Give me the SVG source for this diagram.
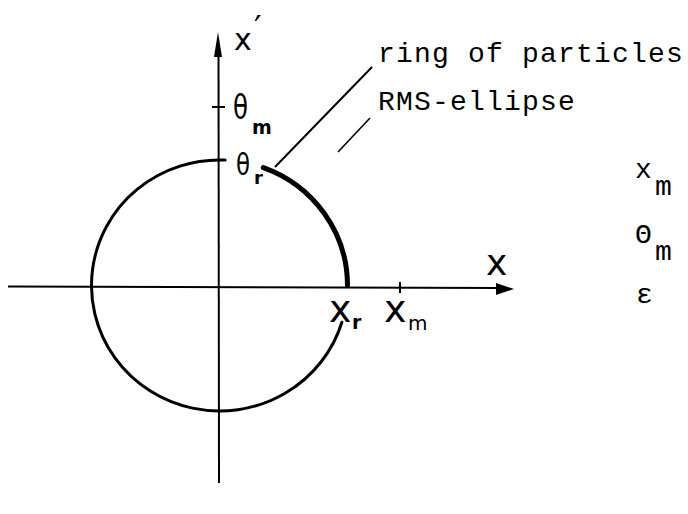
<svg xmlns="http://www.w3.org/2000/svg" width="688" height="514" viewBox="0 0 688 514">
<style>
.ax{stroke:#000;stroke-width:2;fill:none}
.ring{stroke:#000;stroke-width:3;fill:none;stroke-linecap:round}
.hw{font-family:"DejaVu Sans",sans-serif;fill:#000}
.tw{font-family:"Liberation Mono",monospace;fill:#000;font-size:28px;letter-spacing:1.2px}
.lead{stroke:#000;stroke-width:2;fill:none}
</style>
<rect width="688" height="514" fill="#fff"/>
<g id="axes">
<line class="ax" x1="8" y1="286.5" x2="500" y2="288"/>
<polygon points="514,289 496,283 496,295" fill="#000"/>
<line class="ax" x1="219" y1="483" x2="218.5" y2="52"/>
<polygon points="218,32 214,57 222,57" fill="#000"/>
<line class="ax" x1="212" y1="107" x2="225" y2="107"/>
<line class="ax" x1="400" y1="282" x2="400" y2="293"/>
</g>
<g id="ring">
<path class="ring" d="M225.1,160.1 A128,125.5 0 1 0 341.9,322.2"/>
<path class="ring" style="stroke-width:5" d="M263.3,167.6 A128,125.5 0 0 1 347.5,285.5"/>
</g>
<g id="connectors">
<line class="lead" x1="275" y1="167" x2="372" y2="67"/>
<line class="lead" style="stroke-width:1.6" x1="338" y1="152" x2="370" y2="118"/>
</g>
<g id="axis-labels">
<text class="hw" x="234" y="50" font-size="30">x</text>
<text class="hw" x="254" y="40" font-size="34">′</text>
<text class="hw" x="233" y="119" font-size="34" textLength="15" lengthAdjust="spacingAndGlyphs">θ</text>
<text class="hw" x="252" y="134" font-size="19" font-weight="bold">m</text>
<text class="hw" x="236" y="175" font-size="30" textLength="14" lengthAdjust="spacingAndGlyphs">θ</text>
<text class="hw" x="254" y="184" font-size="18" font-weight="bold">r</text>
<text class="hw" x="486" y="275" font-size="36">x</text>
<text class="hw" x="329" y="322" font-size="38">x</text>
<text class="hw" x="352" y="329" font-size="19" font-weight="bold">r</text>
<text class="hw" x="384" y="322" font-size="38">x</text>
<text class="hw" x="408" y="330" font-size="20">m</text>
</g>
<g id="legend">
<text class="tw" x="378" y="62">ring of particles</text>
<text class="tw" x="378" y="110">RMS-ellipse</text>
<text class="tw" x="635" y="178">x</text>
<text class="tw" x="655" y="195">m</text>
<text class="tw" x="635" y="243">Θ</text>
<text class="tw" x="655" y="260">m</text>
<text class="tw" x="636" y="303">ε</text>
</g>
</svg>
